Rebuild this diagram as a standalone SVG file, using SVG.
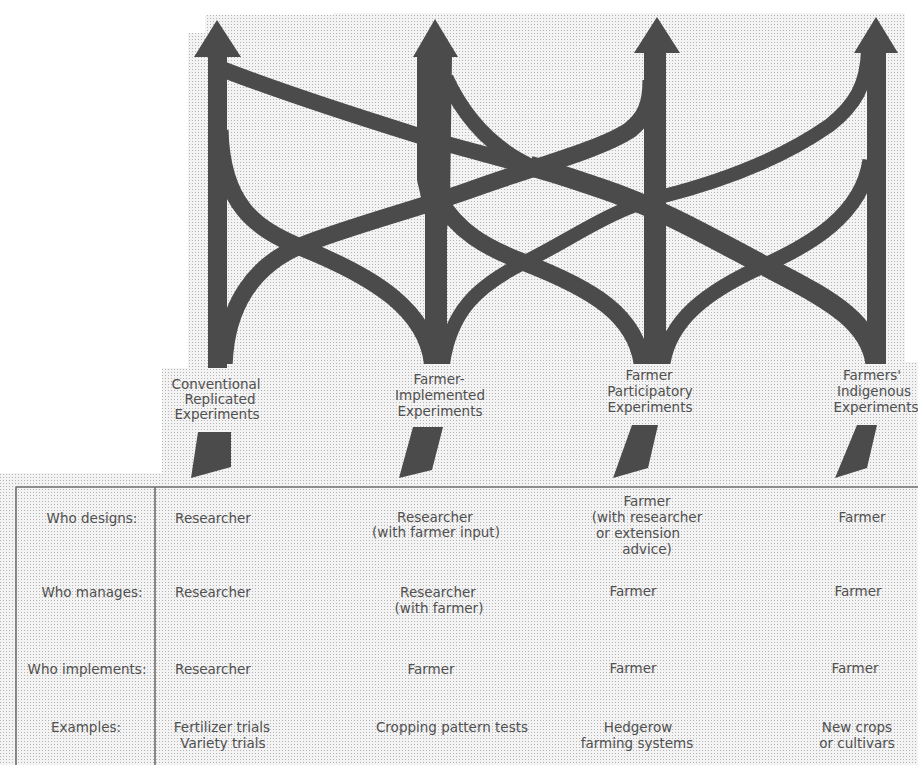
<svg xmlns="http://www.w3.org/2000/svg" width="918" height="765" viewBox="0 0 918 765">
<style>
.band{fill:none;stroke:#4b4b4b;stroke-linecap:butt}
.dark{fill:#4b4b4b}
.lbl{font-family:"DejaVu Sans","Liberation Sans",sans-serif;font-size:13.5px;fill:#505050;text-anchor:middle}
.rule{stroke:#6e6e6e;stroke-width:1.6;fill:none}
</style>
<defs>
<pattern id="ht" width="3" height="3" patternUnits="userSpaceOnUse">
<rect width="3" height="3" fill="#f3f3f3"/>
<rect width="1" height="1" fill="#b4b4b4"/>
</pattern>
<clipPath id="top"><rect x="0" y="0" width="918" height="364"/></clipPath>
</defs>
<rect width="918" height="765" fill="#ffffff"/>
<path d="M188 33 L205 33 L205 15 L333 15 L333 13 L905 13 L905 362 L918 362 L918 765 L0 765 L0 473 L162 473 L162 368 L188 368 Z" fill="url(#ht)"/>

<g id="connectors" clip-path="url(#top)">
<path class="band" stroke-width="17" d="M224 372 C224 305 255 265 300 246 C350 226 420 208 470 190 C530 168 600 150 630 130 C645 118 651 105 651 80"/>
<path class="band" stroke-width="17" d="M433 372 C432 310 370 275 300 247 C255 228 222 205 220 130"/>
<path class="band" stroke-width="14" d="M442 372 C448 310 480 285 523 263 C570 240 610 210 660 197 C720 182 780 160 830 125 C855 105 867 85 868 50"/>
<path class="band" stroke-width="17" d="M643 372 C640 315 590 288 523 262 C485 247 458 232 438 198"/>
<path class="band" stroke-width="15" d="M662 372 C665 320 710 290 763 266 C810 245 862 215 870 160"/>
<path class="band" stroke-width="20" d="M876 372 C876 320 820 295 763 265 C710 237 660 208 600 188 C570 178 550 171 530 166"/>
<path class="band" stroke-width="16" d="M532 167 C490 155 450 146 410 133 C330 108 270 88 214 66"/>
<path class="band" stroke-width="15" d="M535 168 C505 155 470 130 446 78"/>
</g>

<g id="arrow-1">
<polygon class="dark" points="217,20 241,57 194,57"/>
<rect class="dark" x="208" y="55" width="19" height="313"/>
</g>
<g id="arrow-2">
<polygon class="dark" points="435,19 458,57 413,57"/>
<polygon class="dark" points="417,55 452,55 450,200 447,230 447,364 425,364 425,215 417,180"/>
</g>
<g id="arrow-3">
<polygon class="dark" points="657,17 680,53 634,53"/>
<rect class="dark" x="644" y="50" width="22" height="314"/>
</g>
<g id="arrow-4">
<polygon class="dark" points="876,17 898,53 854,53"/>
<rect class="dark" x="867" y="50" width="19" height="314"/>
</g>

<g id="type-1">
<text class="lbl" x="216" y="389">Conventional</text>
<text class="lbl" x="220" y="404">Replicated</text>
<text class="lbl" x="217" y="419">Experiments</text>
<polygon class="dark" points="198,432 231,432 231,467 191,478"/>
</g>
<g id="type-2">
<text class="lbl" x="439" y="384">Farmer-</text>
<text class="lbl" x="440" y="400" textLength="90" lengthAdjust="spacingAndGlyphs">Implemented</text>
<text class="lbl" x="440" y="416">Experiments</text>
<polygon class="dark" points="413,427 443,427 432,470 399,478"/>
</g>
<g id="type-3">
<text class="lbl" x="649" y="380">Farmer</text>
<text class="lbl" x="650" y="396">Participatory</text>
<text class="lbl" x="650" y="412">Experiments</text>
<polygon class="dark" points="632,425 658,425 648,468 613,478"/>
</g>
<g id="type-4">
<text class="lbl" x="872" y="380">Farmers'</text>
<text class="lbl" x="874" y="396">Indigenous</text>
<text class="lbl" x="876" y="412">Experiments</text>
<polygon class="dark" points="857,425 877,425 867,468 835,478"/>
</g>

<g id="table">
<path class="rule" d="M16 487 L918 487 M16 487 L16 765 M155 487 L155 765"/>
<text class="lbl" x="92" y="523">Who designs:</text>
<text class="lbl" x="92" y="597">Who manages:</text>
<text class="lbl" x="87" y="674">Who implements:</text>
<text class="lbl" x="86" y="732">Examples:</text>

<text class="lbl" x="213" y="523">Researcher</text>
<text class="lbl" x="213" y="597">Researcher</text>
<text class="lbl" x="213" y="674">Researcher</text>
<text class="lbl" x="222" y="732">Fertilizer trials</text>
<text class="lbl" x="223" y="748">Variety trials</text>

<text class="lbl" x="435" y="522">Researcher</text>
<text class="lbl" x="436" y="537">(with farmer input)</text>
<text class="lbl" x="438" y="597">Researcher</text>
<text class="lbl" x="439" y="613">(with farmer)</text>
<text class="lbl" x="431" y="674">Farmer</text>
<text class="lbl" x="452" y="732">Cropping pattern tests</text>

<text class="lbl" x="647" y="506">Farmer</text>
<text class="lbl" x="647" y="522">(with researcher</text>
<text class="lbl" x="638" y="538">or extension</text>
<text class="lbl" x="647" y="554">advice)</text>
<text class="lbl" x="633" y="596">Farmer</text>
<text class="lbl" x="633" y="673">Farmer</text>
<text class="lbl" x="638" y="732">Hedgerow</text>
<text class="lbl" x="637" y="748">farming systems</text>

<text class="lbl" x="862" y="522">Farmer</text>
<text class="lbl" x="858" y="596">Farmer</text>
<text class="lbl" x="855" y="673">Farmer</text>
<text class="lbl" x="857" y="732">New crops</text>
<text class="lbl" x="857" y="748">or cultivars</text>
</g>
</svg>
